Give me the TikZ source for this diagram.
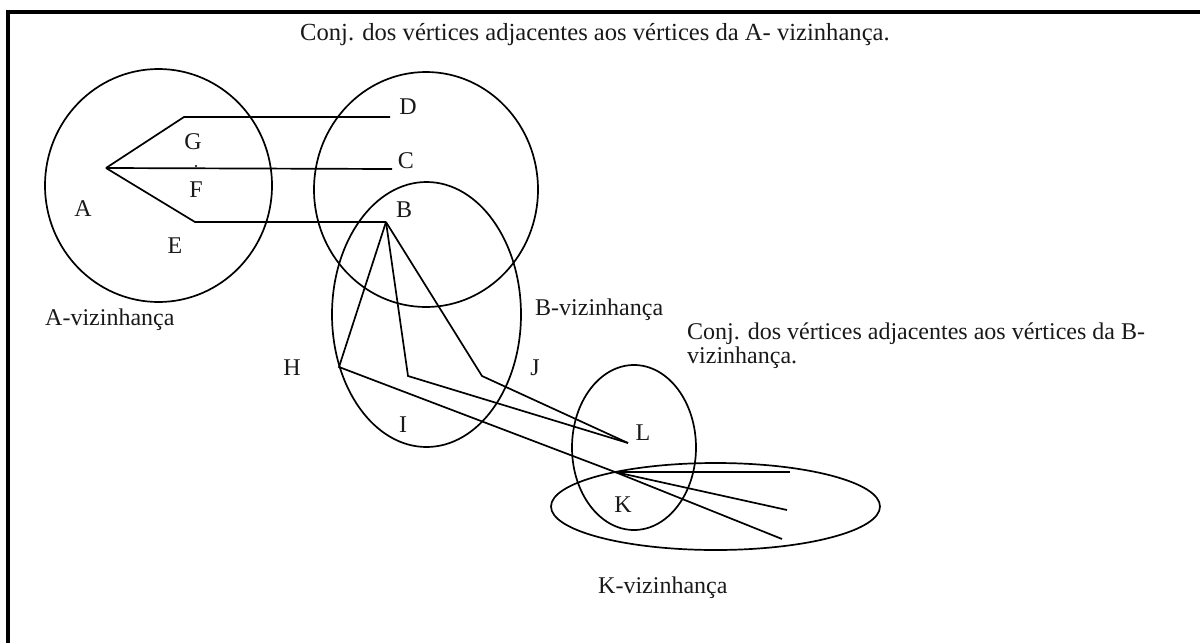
\documentclass[tikz,border=0pt]{standalone}
\usepackage{fontspec}
\setmainfont{Liberation Serif}
\begin{document}
\begin{tikzpicture}[x=1pt,y=-1pt,
  line/.style={line width=1.7pt, black},
  region/.style={line width=1.7pt, black},
  frameline/.style={line width=4pt, black},
  lbl/.style={inner sep=0pt, font=\fontsize{24}{24}\selectfont, text=black!90},
  txt/.style={inner sep=0pt, font=\fontsize{24}{24}\selectfont, text=black!90, anchor=base west}]
\useasboundingbox (0,0) rectangle (1200,643);
% frame
\draw[frameline] (1200,12) -- (8,12) -- (8,643);
% regions
\draw[region] (158.5,185.5) ellipse [x radius=113.5, y radius=116.5];
\draw[region] (426,189.5) ellipse [x radius=112, y radius=117.5];
\draw[region] (426.5,314.5) ellipse [x radius=94.5, y radius=132.5];
\draw[region] (634,447.5) ellipse [x radius=62, y radius=82.5];
\draw[region] (715.5,506.5) ellipse [x radius=164.5, y radius=43.5];
% vertices
\coordinate (vA) at (106,168);
\coordinate (vG) at (184,117);
\coordinate (vD) at (390,117);
\coordinate (vC) at (392,169);
\coordinate (vE) at (195,222);
\coordinate (vB) at (386,222);
\coordinate (vH) at (339,367);
\coordinate (vI) at (408,376);
\coordinate (vJ) at (482,376);
\coordinate (vL) at (628,443);
\coordinate (vK) at (615,472);
\coordinate (k1) at (790,472);
\coordinate (k2) at (787,510);
\coordinate (k3) at (782,539);
% edges
\draw[line] (vA) -- (vG) -- (vD);
\draw[line] (vA) -- (vC);
\draw[line] (vA) -- (vE) -- (vB);
\draw[line] (vB) -- (vH) -- (vK);
\draw[line] (vB) -- (vI) -- (vL);
\draw[line] (vB) -- (vJ) -- (vL);
\draw[line] (vK) -- (k1);
\draw[line] (vK) -- (k2);
\draw[line] (vK) -- (k3);
\fill[black] (196,166) circle (1.2);
% labels
\node[lbl] (lD) at (408,107) {D};
\node[lbl] (lC) at (406,161) {C};
\node[lbl] (lB) at (404,210) {B};
\node[lbl] (lG) at (193,142) {G};
\node[lbl] (lF) at (196,190) {F};
\node[lbl] (lA) at (83,209) {A};
\node[lbl] (lE) at (175,246) {E};
\node[lbl] (lH) at (292,368) {H};
\node[lbl] (lJ) at (535,368) {J};
\node[lbl] (lI) at (403,425) {I};
\node[lbl] (lL) at (643,433) {L};
\node[lbl] (lK) at (623,505) {K};
\node[txt] (tA) at (45,325) {A-vizinhança};
\node[txt] (tB) at (535,315) {B-vizinhança};
\node[txt] (tK) at (598,593) {K-vizinhança};
\node[txt, font=\fontsize{24.6}{24.6}\selectfont] (top) at (300,40) {Conj. dos vértices adjacentes aos vértices da A- vizinhança.};
\node[txt] (cb1) at (687,339) {Conj. dos vértices adjacentes aos vértices da B-};
\node[txt] (cb2) at (687,363) {vizinhança.};
\end{tikzpicture}
\end{document}
